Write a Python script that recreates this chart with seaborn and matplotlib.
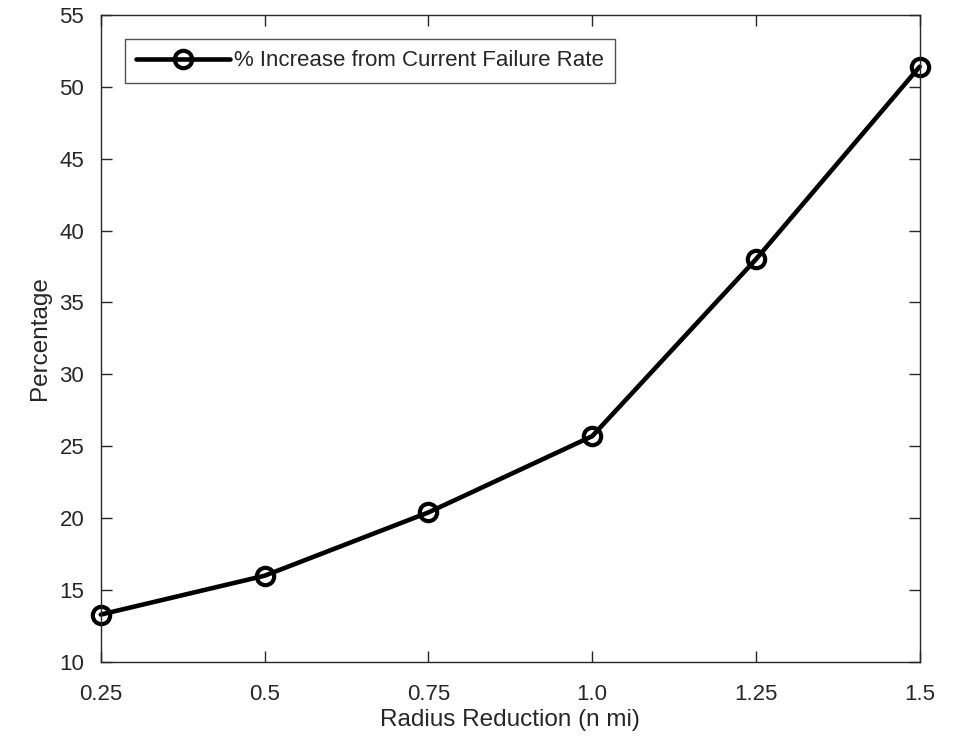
import pandas as pd
import matplotlib.pyplot as plt
import seaborn as sns

radius = [0.25, 0.5, 0.75, 1.0, 1.25, 1.5]
pct_increase = [13.3, 16.0, 20.4, 25.7, 38.0, 51.4]
x_ticklabels = ["0.25", "0.5", "0.75", "1.0", "1.25", "1.5"]
y_ticks = [10, 15, 20, 25, 30, 35, 40, 45, 50, 55]

df = pd.DataFrame({"radius": radius, "pct": pct_increase})

sns.set_style("ticks")
plt.rcParams['font.family'] = ['Liberation Sans', 'DejaVu Sans']

fig = plt.figure(figsize=(9.6, 7.43), dpi=100)
ax = fig.add_axes([0.105, 0.109, 0.853, 0.871])

sns.lineplot(data=df, x="radius", y="pct", ax=ax, color="black", linewidth=3.3,
             marker="o", markersize=12.5, markerfacecolor="none",
             markeredgecolor="black", markeredgewidth=3, clip_on=False,
             label="% Increase from Current Failure Rate")

ax.set_xlim(0.25, 1.5)
ax.set_ylim(10, 55)
ax.set_xticks(radius)
ax.set_xticklabels(x_ticklabels)
ax.set_yticks(y_ticks)
ax.set_xlabel("Radius Reduction (n mi)", fontsize=17.5, color="#262626", labelpad=3)
ax.set_ylabel("Percentage", fontsize=17.5, color="#262626", labelpad=6)
ax.tick_params(direction="in", length=8, width=1, top=True, right=True,
               labelsize=16, colors="#262626")
ax.tick_params(axis="x", pad=16)
ax.tick_params(axis="y", pad=12)
for s in ax.spines.values():
    s.set_visible(True)
    s.set_color("#262626")
    s.set_linewidth(1)

leg = ax.legend(loc="upper left", fontsize=16, frameon=True, fancybox=False,
                edgecolor="#262626", borderaxespad=1.1, handlelength=4.2,
                borderpad=0.5, handletextpad=0.2)
leg.get_frame().set_linewidth(1)

fig.savefig("out.png", dpi=100)
